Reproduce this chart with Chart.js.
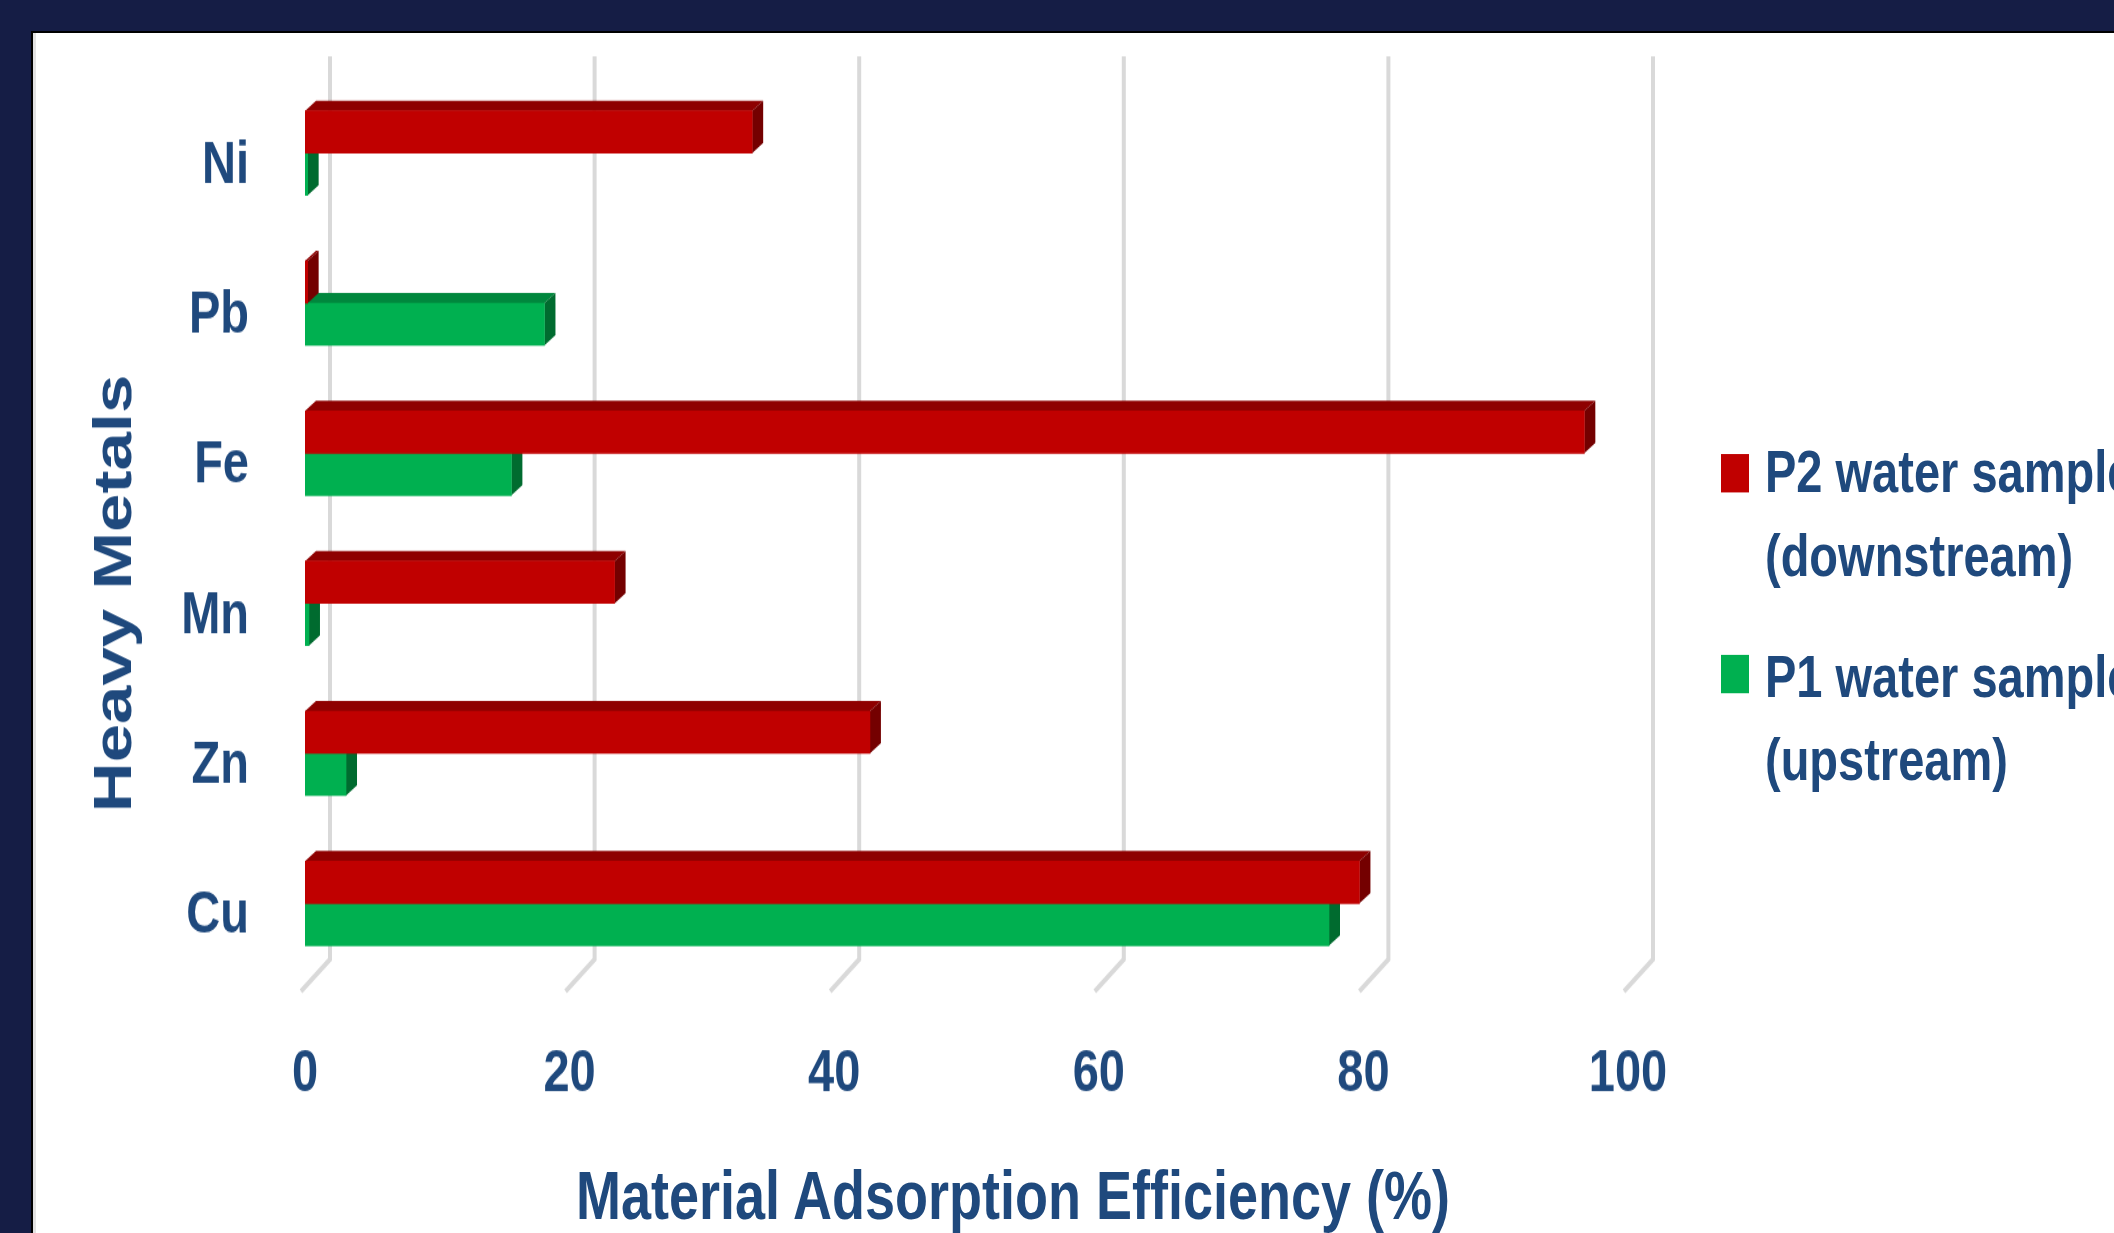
<!DOCTYPE html>
<html>
<head>
<meta charset="utf-8">
<script src="https://cdn.jsdelivr.net/npm/chart.js@4/dist/chart.umd.min.js"></script>
<style>
  html, body { margin:0; padding:0; width:2114px; height:1233px; overflow:hidden; background:#151d45; }
  #panel { position:absolute; left:31px; top:31px; right:0; bottom:0; background:#fff;
           border-top:2px solid #000; border-left:2px solid #000; box-shadow: inset 3px 0 0 #e2e2e2; }
  /* the original picture is stretched vertically; reproduce by scaling the whole chart layer */
  #stage { position:absolute; left:0; top:0; width:2114px; height:964px; transform-origin:0 0; transform:scale(1, 1.27905); }
  #c { position:absolute; left:0; top:0; }
  .txt { position:absolute; color:#1F497D; font-family:'Liberation Sans',Arial,sans-serif; font-weight:bold; white-space:nowrap; }
  #ytitle { font-size:54px; line-height:54px; left:112px; top:464px; transform:translate(-50%,-50%) rotate(-90deg); }
  #xtitle { font-size:54px; line-height:54px; left:1013px; top:907px; transform:translateX(-50%); }
  .lg-box { position:absolute; width:28px; }
  .lg-text { font-size:47px; line-height:65px; }
</style>
</head>
<body>
<div id="panel"></div>
<div id="stage">
  <canvas id="c" width="2114" height="964"></canvas>
  <div id="ytitle" class="txt"></div>
  <div id="xtitle" class="txt"></div>
  <div id="legend"></div>
</div>
<script>
// ---- data ----
const categories = ['Ni', 'Pb', 'Fe', 'Mn', 'Zn', 'Cu'];
const p2Values = [33.8, 0.2, 96.7, 23.4, 42.7, 79.7];   // P2 water sample (downstream)
const p1Values = [0.2, 18.1, 15.6, 0.3, 3.1, 77.4];     // P1 water sample (upstream)
const seriesLabels = ['P2 water sample (downstream)', 'P1 water sample (upstream)'];
const xTickValues = [0, 20, 40, 60, 80, 100];
const xAxisTitle = 'Material Adsorption Efficiency (%)';
const yAxisTitle = 'Heavy Metals';

// ---- styles ----
const TXT = '#1F497D';
const FAMILY = "'Liberation Sans', Arial, sans-serif";
const seriesColors = [
  { front: '#C00000', top: '#8E0000', side: '#740000' },
  { front: '#00B050', top: '#00873D', side: '#006B2F' }
];
const DEPTH = { dx: 11, dy: -8 };

document.getElementById('xtitle').textContent = xAxisTitle;
document.getElementById('ytitle').textContent = yAxisTitle;

// HTML legend built from series labels
const legendTops = [336, 496];
const boxTops = [355, 512];
const lg = document.getElementById('legend');
seriesLabels.forEach((lab, i) => {
  const box = document.createElement('div');
  box.className = 'lg-box';
  box.style.left = '1721px';
  box.style.top = boxTops[i] + 'px';
  box.style.height = '30px';
  box.style.background = seriesColors[i].front;
  lg.appendChild(box);
  const t = document.createElement('div');
  t.className = 'txt lg-text';
  t.style.left = '1765px';
  t.style.top = legendTops[i] + 'px';
  const k = lab.indexOf(' (');
  t.appendChild(document.createTextNode(lab.slice(0, k)));
  t.appendChild(document.createElement('br'));
  t.appendChild(document.createTextNode(lab.slice(k + 1)));
  lg.appendChild(t);
});

// back-wall gridlines + 3D faces of bars
const wall3d = {
  id: 'wall3d',
  beforeDatasetsDraw(chart) {
    const ctx = chart.ctx, xs = chart.scales.x, ca = chart.chartArea;
    ctx.save();
    ctx.strokeStyle = '#d9d9d9';
    ctx.lineWidth = 4;
    xs.ticks.forEach(tk => {
      const p = xs.getPixelForValue(tk.value);
      ctx.beginPath();
      ctx.moveTo(p + 25, ca.top - 17);
      ctx.lineTo(p + 25, ca.bottom - 15);
      ctx.lineTo(p - 4, ca.bottom + 10);
      ctx.stroke();
    });
    for (let d = chart.data.datasets.length - 1; d >= 0; d--) {
      const meta = chart.getDatasetMeta(d);
      const col = seriesColors[d];
      meta.data.forEach(bar => {
        const { x, y, base, height } = bar.getProps(['x', 'y', 'base', 'height'], true);
        const l = Math.min(x, base), r = Math.max(x, base), t = y - height / 2, b = y + height / 2;
        ctx.fillStyle = col.top;
        ctx.beginPath();
        ctx.moveTo(l, t); ctx.lineTo(l + DEPTH.dx, t + DEPTH.dy);
        ctx.lineTo(r + DEPTH.dx, t + DEPTH.dy); ctx.lineTo(r, t);
        ctx.closePath(); ctx.fill();
        ctx.fillStyle = col.side;
        ctx.beginPath();
        ctx.moveTo(r, t); ctx.lineTo(r + DEPTH.dx, t + DEPTH.dy);
        ctx.lineTo(r + DEPTH.dx, b + DEPTH.dy); ctx.lineTo(r, b);
        ctx.closePath(); ctx.fill();
      });
    }
    ctx.restore();
  }
};

new Chart(document.getElementById('c'), {
  type: 'bar',
  data: {
    labels: categories,
    datasets: [
      { label: seriesLabels[0], data: p2Values, backgroundColor: seriesColors[0].front, borderWidth: 0, barThickness: 33 },
      { label: seriesLabels[1], data: p1Values, backgroundColor: seriesColors[1].front, borderWidth: 0, barThickness: 33 }
    ]
  },
  options: {
    indexAxis: 'y',
    responsive: false,
    animation: false,
    layout: { padding: { top: 61, right: 486, bottom: 0, left: 0 } },
    plugins: { legend: { display: false }, tooltip: { enabled: false } },
    scales: {
      x: {
        min: 0, max: 100,
        grid: { display: false, drawTicks: false },
        border: { display: false },
        ticks: { stepSize: 20, padding: 47, color: TXT, font: { family: FAMILY, size: 47, weight: 'bold' } },
        afterBuildTicks: s => { s.ticks = xTickValues.map(v => ({ value: v })); },
        afterFit: s => { s.height = 199; s.paddingLeft = 0; s.paddingRight = 0; }
      },
      y: {
        grid: { display: false, drawTicks: false },
        border: { display: false },
        ticks: { padding: 56, labelOffset: 10, color: TXT, font: { family: FAMILY, size: 47, weight: 'bold' } },
        afterFit: s => { s.width = 305; s.paddingTop = 0; s.paddingBottom = 0; }
      }
    }
  },
  plugins: [wall3d]
});
</script>
</body>
</html>
